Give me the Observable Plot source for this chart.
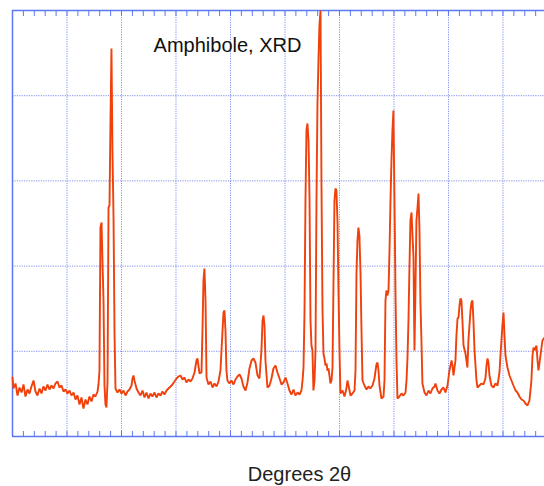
<!DOCTYPE html>
<html>
<head>
<meta charset="utf-8">
<script src="https://cdn.jsdelivr.net/npm/d3@7"></script>
<script src="https://cdn.jsdelivr.net/npm/@observablehq/plot@0.6"></script>
<style>
  html, body { margin: 0; padding: 0; background: #fff; }
  #chart svg { display: block; }
</style>
</head>
<body>
<div id="chart"></div>
<script>
// Diffraction angle (degrees 2θ)
const twoTheta = [
  5.00, 5.09, 5.28, 5.46, 5.64, 5.83, 6.01, 6.19, 6.38, 6.56, 6.74, 6.93, 7.11, 7.29, 7.48, 7.66, 7.84, 8.03, 8.21, 8.39,
  8.58, 8.76, 8.94, 9.13, 9.31, 9.50, 9.68, 9.86, 10.05, 10.23, 10.41, 10.60, 10.78, 10.96, 11.15, 11.33, 11.51, 11.70, 11.88, 12.06,
  12.25, 12.43, 12.61, 12.80, 12.89, 12.98, 13.07, 13.17, 13.26, 13.35, 13.44, 13.53, 13.62, 13.72, 13.81, 13.90, 13.99, 14.08, 14.17, 14.27,
  14.36, 14.45, 14.63, 14.82, 15.00, 15.18, 15.37, 15.55, 15.73, 15.92, 16.01, 16.10, 16.19, 16.38, 16.56, 16.74, 16.93, 17.11, 17.29, 17.48,
  17.66, 17.84, 18.03, 18.21, 18.39, 18.58, 18.76, 18.94, 19.13, 19.31, 19.50, 19.68, 19.86, 20.05, 20.23, 20.41, 20.60, 20.78, 20.96, 21.15,
  21.33, 21.51, 21.70, 21.88, 21.97, 22.16, 22.34, 22.43, 22.52, 22.61, 22.71, 22.80, 22.98, 23.17, 23.35, 23.53, 23.72, 23.90, 24.08, 24.27,
  24.36, 24.45, 24.54, 24.63, 24.72, 24.91, 25.09, 25.28, 25.46, 25.64, 25.83, 26.01, 26.19, 26.38, 26.56, 26.74, 26.93, 27.11, 27.29, 27.48,
  27.66, 27.84, 27.94, 28.03, 28.12, 28.21, 28.39, 28.58, 28.76, 28.94, 29.13, 29.31, 29.50, 29.68, 29.86, 30.05, 30.23, 30.41, 30.60, 30.78,
  30.96, 31.15, 31.33, 31.51, 31.61, 31.70, 31.79, 31.88, 31.97, 32.06, 32.16, 32.25, 32.34, 32.43, 32.52, 32.61, 32.71, 32.80, 32.89, 32.98,
  33.07, 33.16, 33.26, 33.35, 33.44, 33.53, 33.62, 33.72, 33.81, 33.90, 33.99, 34.08, 34.17, 34.27, 34.36, 34.45, 34.54, 34.63, 34.72, 34.82,
  34.91, 35.00, 35.09, 35.28, 35.46, 35.64, 35.73, 35.83, 36.01, 36.19, 36.38, 36.47, 36.56, 36.65, 36.74, 36.83, 36.93, 37.02, 37.11, 37.29,
  37.48, 37.66, 37.84, 38.03, 38.21, 38.39, 38.49, 38.58, 38.67, 38.85, 39.04, 39.13, 39.22, 39.31, 39.40, 39.50, 39.59, 39.68, 39.77, 39.86,
  39.95, 40.05, 40.14, 40.23, 40.32, 40.50, 40.69, 40.87, 41.06, 41.15, 41.24, 41.33, 41.42, 41.51, 41.61, 41.70, 41.79, 41.88, 41.97, 42.06,
  42.16, 42.25, 42.34, 42.43, 42.52, 42.61, 42.80, 42.98, 43.17, 43.35, 43.53, 43.72, 43.81, 43.99, 44.17, 44.36, 44.54, 44.72, 44.91, 45.09,
  45.28, 45.37, 45.46, 45.64, 45.73, 45.83, 45.92, 46.01, 46.10, 46.19, 46.28, 46.38, 46.56, 46.74, 46.83, 47.02, 47.11, 47.20, 47.29, 47.39,
  47.57, 47.66, 47.84, 48.03, 48.21, 48.39, 48.49, 48.58, 48.67, 48.76, 48.94, 49.13, 49.31, 49.50, 49.68, 49.77, 49.86, 49.95, 50.05, 50.14,
  50.23, 50.41, 50.60, 50.78, 50.96, 51.15, 51.33, 51.51, 51.70, 51.88, 52.06, 52.25, 52.43, 52.61, 52.71, 52.80, 52.89, 53.07, 53.17, 53.26,
  53.44, 53.62, 53.81
];

// Diffracted intensity (counts)
const counts = [
  590, 480, 530, 410, 490, 440, 520, 400, 470, 430, 500, 560, 450, 410, 480, 430, 500, 460, 520, 470,
  510, 480, 530, 550, 490, 510, 450, 470, 430, 460, 410, 440, 370, 410, 320, 390, 280, 370, 320, 400,
  350, 420, 400, 450, 520, 660, 2090, 2140, 1730, 1360, 510, 320, 290, 560, 2290, 2310, 3160, 3880, 2860, 2190,
  1030, 480, 440, 470, 430, 460, 410, 450, 470, 510, 580, 610, 560, 480, 440, 410, 460, 390, 440, 380,
  430, 400, 440, 390, 430, 410, 450, 420, 460, 480, 500, 520, 550, 580, 600, 610, 570, 590, 540, 570,
  550, 580, 640, 760, 780, 630, 640, 1060, 1560, 1680, 1360, 590, 520, 550, 490, 530, 500, 550, 660, 1060,
  1240, 1260, 1060, 660, 560, 530, 560, 520, 570, 600, 620, 580, 500, 460, 540, 680, 760, 780, 740, 610,
  580, 860, 1160, 1210, 1110, 760, 490, 510, 580, 680, 710, 640, 580, 520, 540, 590, 530, 460, 420, 470,
  410, 440, 420, 460, 560, 690, 1230, 2360, 3060, 3130, 2960, 2390, 1160, 910, 860, 460, 560, 860, 2360, 3330,
  3760, 4110, 4260, 2490, 1290, 830, 780, 710, 730, 660, 680, 610, 530, 560, 690, 1530, 2360, 2480, 2460, 2140,
  1430, 860, 430, 460, 400, 480, 560, 510, 410, 430, 460, 660, 1630, 1960, 2090, 2010, 1630, 1060, 560, 510,
  470, 500, 480, 510, 580, 720, 740, 660, 510, 380, 400, 560, 1360, 1460, 1410, 1460, 1860, 2360, 2760, 3060,
  3260, 2330, 1430, 760, 380, 400, 430, 410, 440, 560, 790, 1160, 1690, 2160, 2240, 2010, 1790, 860, 1460, 2160,
  2290, 2430, 2060, 1330, 960, 530, 440, 410, 460, 430, 480, 500, 530, 460, 430, 470, 490, 440, 510, 660,
  760, 710, 610, 760, 1010, 1180, 1190, 1310, 1380, 1360, 1160, 910, 830, 690, 960, 1260, 1340, 1360, 1160, 860,
  560, 490, 510, 530, 520, 580, 710, 780, 740, 610, 510, 490, 530, 510, 640, 810, 960, 1110, 1240, 1010,
  810, 690, 610, 560, 510, 460, 440, 400, 370, 360, 330, 310, 360, 560, 810, 890, 860, 910, 760, 660,
  810, 960, 990
];

const xDomain = [5, 53.81];
const yDomain = [0, 4260];
const xGridTicks = [10, 15, 20, 25, 30, 35, 40, 45, 50];
const xMinorTicks = d3.range(5, 54, 1);
const title = "Amphibole, XRD";
const xLabel = "Degrees 2θ";

const data = twoTheta.map((t, i) => ({twoTheta: t, counts: counts[i]}));
const yGridTicks = d3.range(1, 5).map(i => yDomain[1] * i / 5);

const lineColor = "#f0400c";
const frameColor = "#5b78f2";
const gridColor = "#6a7cf0";
const font = "'Liberation Sans', Arial, Helvetica, sans-serif";

const chart = Plot.plot({
  width: 544,
  height: 486,
  marginLeft: 12,
  marginRight: 0,
  marginTop: 10,
  marginBottom: 50,
  style: {fontFamily: font, background: "#fff"},
  x: {domain: xDomain, axis: null},
  y: {domain: yDomain, axis: null},
  marks: [
    Plot.gridX(xGridTicks, {stroke: gridColor, strokeOpacity: 0.85, strokeDasharray: "1.2,1.2", strokeWidth: 1}),
    Plot.gridY(yGridTicks, {stroke: gridColor, strokeOpacity: 0.85, strokeDasharray: "1.2,1.2", strokeWidth: 1}),
    Plot.axisX({anchor: "bottom", ticks: xMinorTicks, tickSize: -5, tickFormat: () => "", label: null, color: frameColor}),
    Plot.axisX({anchor: "top", ticks: xMinorTicks, tickSize: -5, tickFormat: () => "", label: null, color: frameColor}),
    Plot.ruleY([yDomain[0], yDomain[1]], {stroke: frameColor, strokeWidth: 1.5}),
    Plot.ruleX([xDomain[0]], {stroke: frameColor, strokeWidth: 1.5}),
    Plot.line(data, {x: "twoTheta", y: "counts", stroke: lineColor, strokeWidth: 1.9, strokeLinejoin: "miter"}),
    Plot.text([title], {frameAnchor: "top-left", dx: 215, dy: 27, text: d => d, fontSize: 20, fill: "#111", textAnchor: "middle"}),
    Plot.text([xLabel], {frameAnchor: "bottom-left", dx: 287, dy: 44, text: d => d, fontSize: 20, fill: "#222", textAnchor: "middle"})
  ]
});
document.getElementById("chart").appendChild(chart);
</script>
</body>
</html>
